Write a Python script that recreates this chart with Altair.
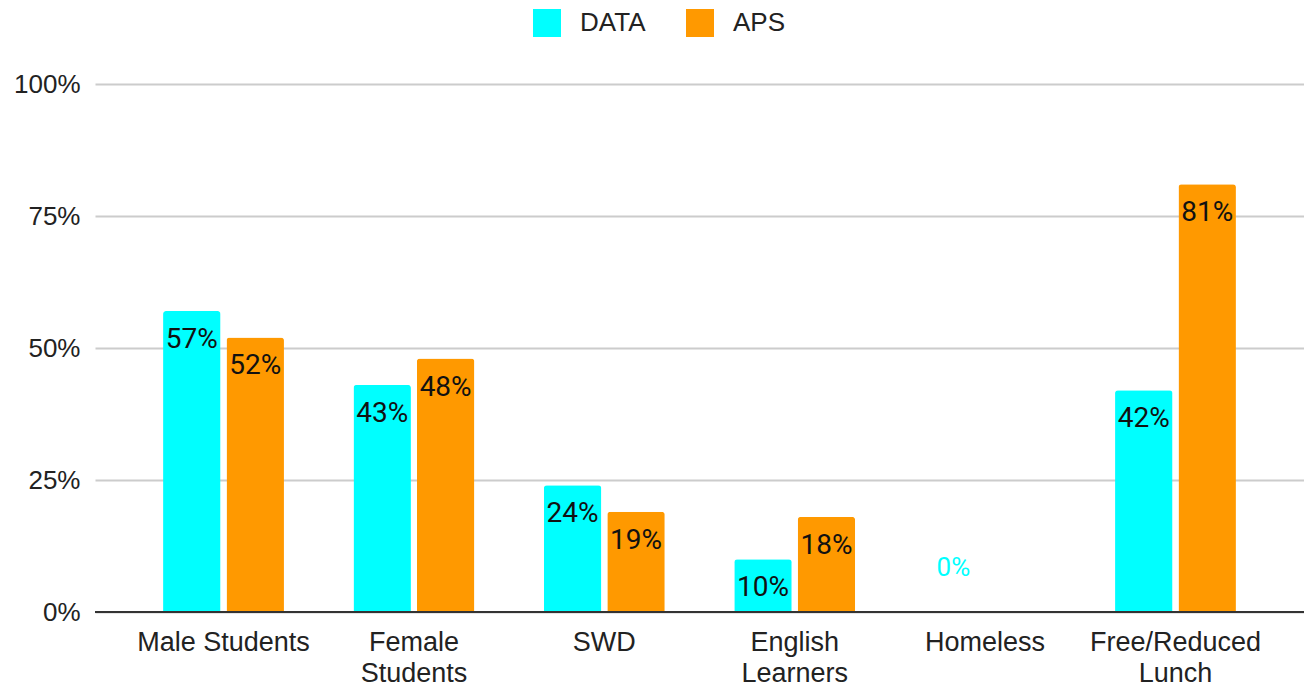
import altair as alt
import pandas as pd

categories = ["Male Students", "Female Students", "SWD", "English Learners", "Homeless", "Free/Reduced Lunch"]
series = ["DATA", "APS"]
data_values = [57, 43, 24, 10, 0, 42]
aps_values = [52, 48, 19, 18, None, 81]
colors = ["#00FFFF", "#FF9900"]

rows = []
for c, d, a in zip(categories, data_values, aps_values):
    rows.append({"category": c, "series": "DATA", "value": d})
    if a is not None:
        rows.append({"category": c, "series": "APS", "value": a})
df = pd.DataFrame(rows)
df["label"] = df["value"].astype(int).astype(str) + "%"

AXFONT = "Liberation Sans"
LBLFONT = "Roboto"

x = alt.X("category:N", sort=categories, title=None,
          scale=alt.Scale(paddingInner=0, paddingOuter=0.175),
          axis=alt.Axis(labelAngle=0, labelFontSize=27, labelFont=AXFONT, labelColor="#222222",
                        labelPadding=17, labelLineHeight=31, ticks=False, domain=False, grid=False,
                        labelBaseline="top",
                        labelExpr="datum.label == 'Male Students' ? datum.label : split(datum.label, ' ')"))
xo = alt.XOffset("series:N", sort=series,
                 scale=alt.Scale(paddingInner=0.094, paddingOuter=0.548))
y = alt.Y("value:Q", title=None,
          scale=alt.Scale(domain=[0, 100], nice=False),
          axis=alt.Axis(values=[0, 25, 50, 75, 100], labelExpr="datum.value + '%'",
                        labelFontSize=26, labelFont=AXFONT, labelColor="#222222",
                        labelPadding=15, ticks=False, domain=False,
                        gridColor="#cccccc", gridWidth=2))
color = alt.Color("series:N", sort=series,
                  scale=alt.Scale(domain=series, range=colors),
                  legend=alt.Legend(title=None, orient="none", direction="horizontal",
                                    legendX=438, legendY=-75, symbolType="square",
                                    symbolSize=784, symbolStrokeWidth=0, labelFontSize=26,
                                    labelFont=AXFONT, labelColor="#222222", labelOffset=19,
                                    columnPadding=40, padding=0))

base = alt.Chart(df)

bars = base.mark_bar(cornerRadiusTopLeft=3, cornerRadiusTopRight=3).encode(
    x=x, xOffset=xo, y=y, color=color)

labels = base.transform_filter("datum.value > 0").mark_text(
    baseline="middle", dy=29, fontSize=28, font=LBLFONT, color="#111111").encode(
    x=x, xOffset=xo, y=y, text="label:N")

zero_labels = base.transform_filter("datum.value == 0").mark_text(
    baseline="middle", dy=-44, fontSize=26, font=LBLFONT).encode(
    x=x, xOffset=xo, y=y, text="label:N",
    color=alt.Color("series:N", scale=alt.Scale(domain=series, range=colors), legend=None))

zero_rule = base.mark_rule(color="#333333", strokeWidth=2).encode(y=alt.datum(0))

chart = alt.layer(bars, labels, zero_labels, zero_rule).properties(
    width=1209, height=528,
    background="white",
    autosize=alt.AutoSizeParams(type="none"),
    padding={"left": 87, "top": 76, "right": 0, "bottom": 77},
).configure_view(strokeWidth=0)

chart.save("out.html", embed_options={"renderer": "svg", "actions": False})
